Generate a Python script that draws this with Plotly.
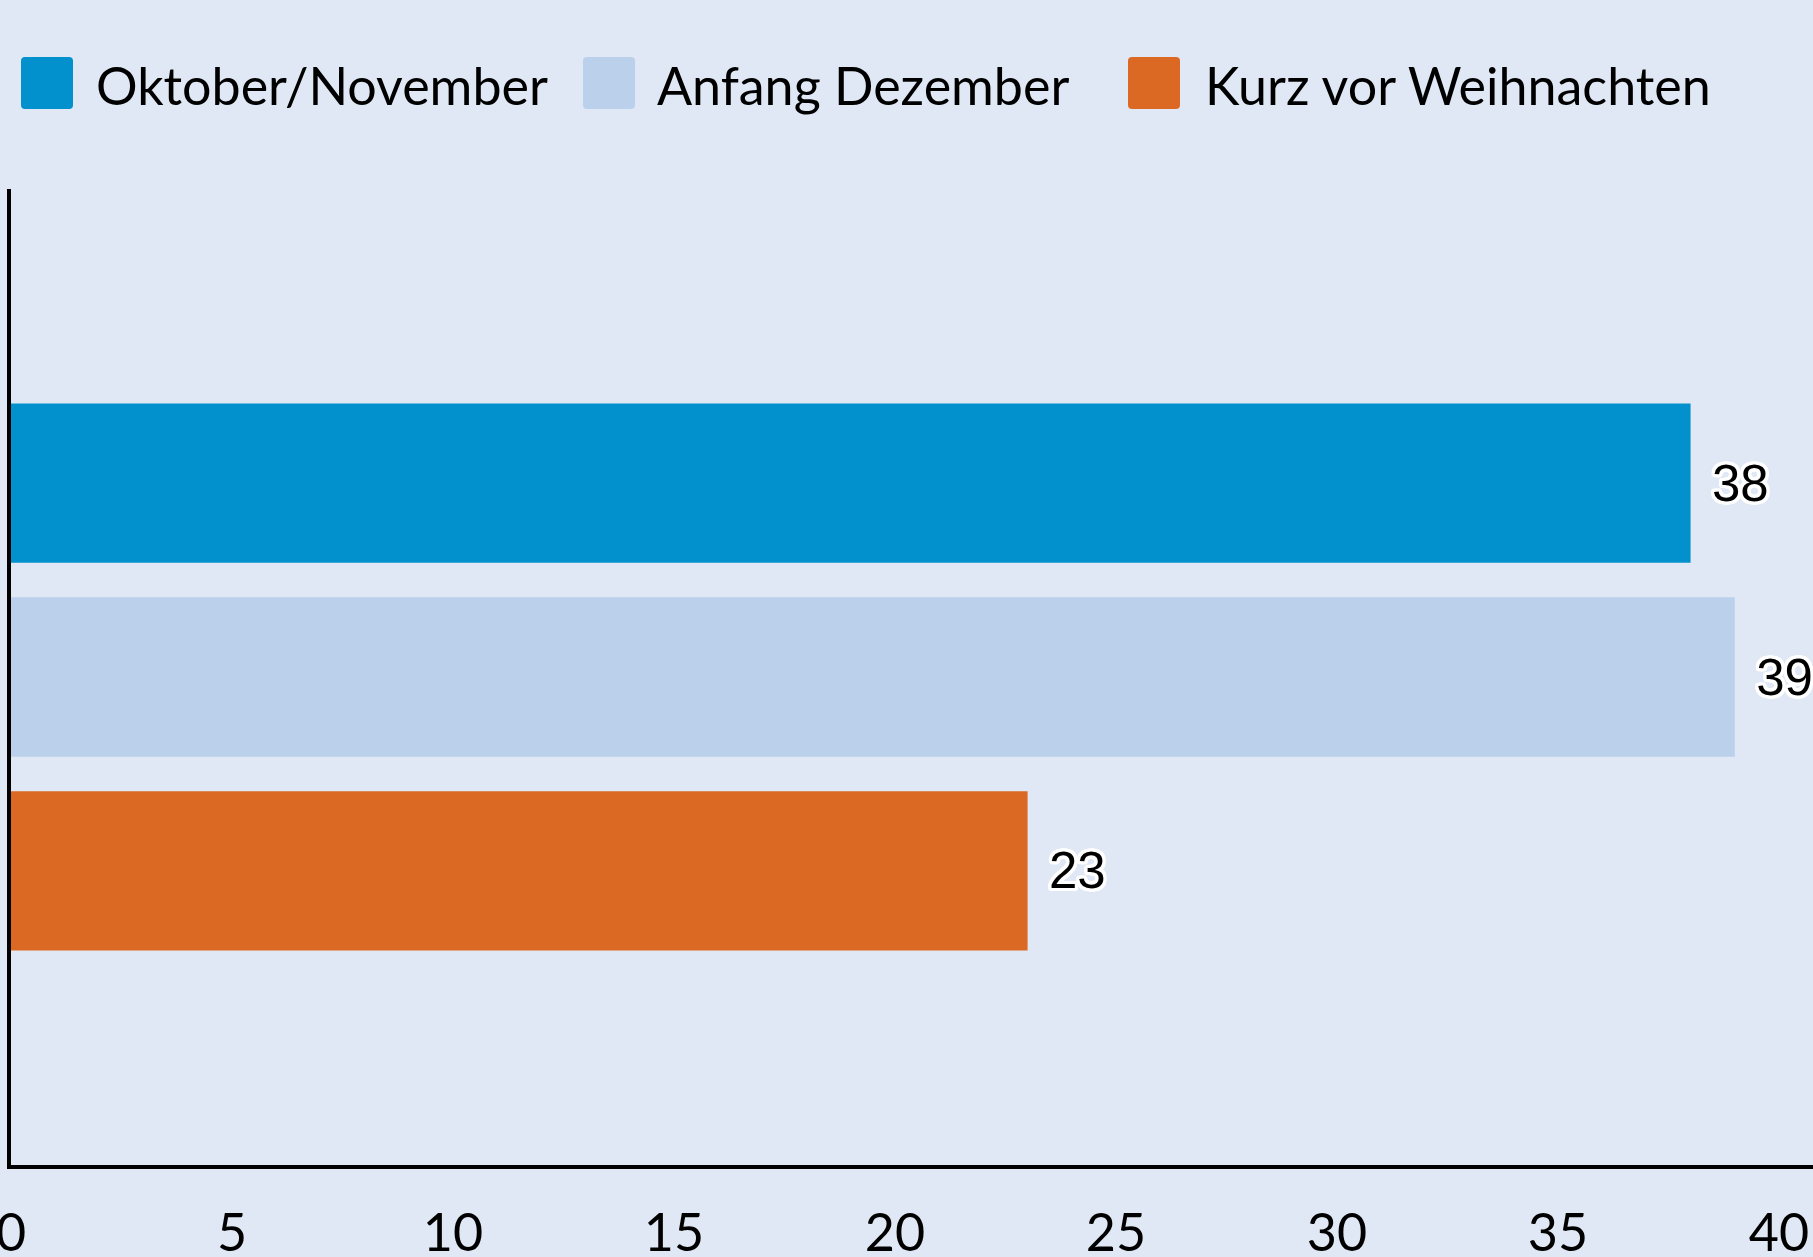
import plotly.graph_objects as go

# ---- data ----
periods = ["Oktober/November", "Anfang Dezember", "Kurz vor Weihnachten"]
values = [38, 39, 23]
category = ["Zeitpunkt"]
colors = ["#0291cd", "#bbd0eb", "#dc6923"]
x_ticks = [0, 5, 10, 15, 20, 25, 30, 35, 40]

# ---- layout geometry ----
W, H = 1813, 1257
L, R, T, B = 11, 0, 189, 92
PW, PH = W - L - R, H - T - B
BG = "#dfe8f4"
FONT = "Lato"


def px_x(x):
    return (x - L) / PW


def px_y(y):
    return (H - B - y) / PH


offs = [(3, 0), (-3, 0), (0, 3), (0, -3), (2, 2), (-2, -2), (2, -2), (-2, 2),
        (3, 1), (3, -1), (-3, 1), (-3, -1), (1, 3), (-1, 3), (1, -3), (-1, -3),
        (3, 2), (3, -2), (-3, 2), (-3, -2), (2, 3), (-2, 3), (2, -3), (-2, -3)]
shadow = ", ".join(f"{dx}px {dy}px 0px #ffffff" for dx, dy in offs)

fig = go.Figure()
for name, val, col in zip(periods, values, colors):
    fig.add_trace(
        go.Bar(
            x=[val],
            y=category,
            name=name,
            orientation="h",
            marker=dict(color=col, line=dict(width=0)),
            text=[val],
            texttemplate="\u00a0\u200a%{x}",
            textposition="outside",
            constraintext="none",
            cliponaxis=True,
            textfont=dict(family="Liberation Sans, Arial", size=51, color="black", shadow=shadow),
        )
    )


def rounded_rect(x0, y0, x1, y1, r):
    # pixel coords -> paper path with rounded corners
    X = lambda v: px_x(v)
    Y = lambda v: px_y(v)
    return (
        f"M {X(x0 + r)},{Y(y0)} L {X(x1 - r)},{Y(y0)} Q {X(x1)},{Y(y0)} {X(x1)},{Y(y0 + r)} "
        f"L {X(x1)},{Y(y1 - r)} Q {X(x1)},{Y(y1)} {X(x1 - r)},{Y(y1)} "
        f"L {X(x0 + r)},{Y(y1)} Q {X(x0)},{Y(y1)} {X(x0)},{Y(y1 - r)} "
        f"L {X(x0)},{Y(y0 + r)} Q {X(x0)},{Y(y0)} {X(x0 + r)},{Y(y0)} Z"
    )


# custom legend (large swatches)
sw_x = [21, 583, 1128]
tx_x = [94, 655, 1203]
shapes = []
annotations = []
for i, (name, col) in enumerate(zip(periods, colors)):
    shapes.append(
        dict(
            type="path",
            xref="paper",
            yref="paper",
            path=rounded_rect(sw_x[i], 57, sw_x[i] + 52, 109, 4),
            fillcolor=col,
            line=dict(width=0),
        )
    )
    annotations.append(
        dict(
            text=name,
            xref="paper",
            yref="paper",
            x=px_x(tx_x[i]),
            y=px_y(85),
            xanchor="left",
            yanchor="middle",
            showarrow=False,
            font=dict(family=FONT, size=52, color="black"),
        )
    )

fig.update_layout(
    template="none",
    width=W,
    height=H,
    margin=dict(l=L, r=R, t=T, b=B, pad=0, autoexpand=False),
    paper_bgcolor=BG,
    plot_bgcolor=BG,
    barmode="group",
    bargap=0.404,
    bargroupgap=0.178,
    showlegend=False,
    shapes=shapes,
    annotations=annotations,
    font=dict(family=FONT, size=52, color="black"),
    xaxis=dict(
        range=[0, 40.77],
        tickvals=x_ticks,
        showgrid=False,
        zeroline=False,
        showline=True,
        linecolor="black",
        linewidth=4,
        ticks="",
        automargin=False,
        ticklabeloverflow="allow",
        ticklabelstandoff=20,
        tickfont=dict(family=FONT, size=52, color="black"),
    ),
    yaxis=dict(
        type="category",
        range=[0.5, -0.5],
        showgrid=False,
        zeroline=False,
        showline=True,
        linecolor="black",
        linewidth=4,
        showticklabels=False,
        automargin=False,
        ticks="",
    ),
)

fig.write_html("out.html")
